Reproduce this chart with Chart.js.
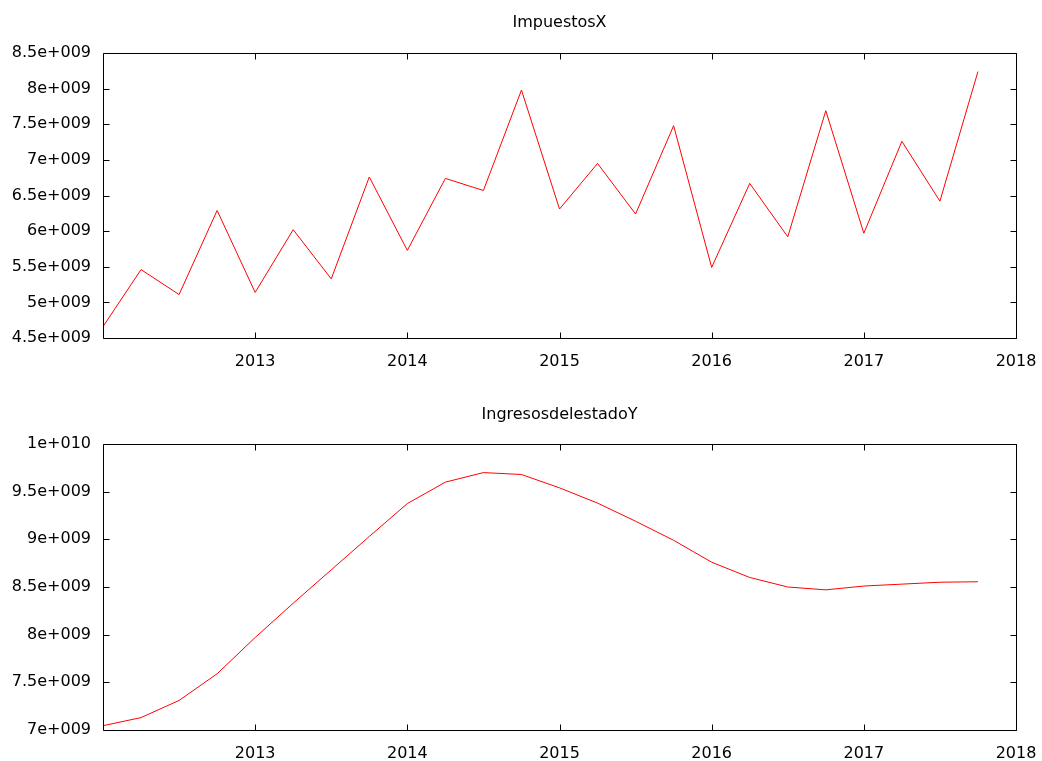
<!DOCTYPE html>
<html><head><meta charset="utf-8">
<script src="https://cdn.jsdelivr.net/npm/chart.js@4"></script>
<style>
html,body{margin:0;padding:0;background:#fff;}
#c1{position:absolute;left:0;top:0;}
#c2{position:absolute;left:0;top:390px;}
</style></head><body>
<canvas id="c1" width="1042" height="369"></canvas>
<canvas id="c2" width="1042" height="371"></canvas>
<script>
const quarters = [2012, 2012.25, 2012.5, 2012.75, 2013, 2013.25, 2013.5, 2013.75,
  2014, 2014.25, 2014.5, 2014.75, 2015, 2015.25, 2015.5, 2015.75,
  2016, 2016.25, 2016.5, 2016.75, 2017, 2017.25, 2017.5, 2017.75];
const impuestosX = [4.66e9, 5.46e9, 5.11e9, 6.29e9, 5.14e9, 6.02e9, 5.33e9, 6.76e9,
  5.73e9, 6.74e9, 6.57e9, 7.98e9, 6.31e9, 6.95e9, 6.24e9, 7.48e9,
  5.49e9, 6.67e9, 5.92e9, 7.69e9, 5.97e9, 7.26e9, 6.42e9, 8.24e9];
const ingresosY = [7.045e9, 7.13e9, 7.31e9, 7.59e9, 7.97e9, 8.33e9, 8.68e9, 9.03e9,
  9.375e9, 9.60e9, 9.70e9, 9.68e9, 9.54e9, 9.38e9, 9.19e9, 8.99e9,
  8.76e9, 8.60e9, 8.50e9, 8.47e9, 8.51e9, 8.53e9, 8.55e9, 8.555e9];
const xTicks = [2013, 2014, 2015, 2016, 2017, 2018];
const xTickLabels = ['2013', '2014', '2015', '2016', '2017', '2018'];
const yTicksTop = [4.5e9, 5e9, 5.5e9, 6e9, 6.5e9, 7e9, 7.5e9, 8e9, 8.5e9];
const yTickLabelsTop = ['4.5e+009', '5e+009', '5.5e+009', '6e+009', '6.5e+009', '7e+009', '7.5e+009', '8e+009', '8.5e+009'];
const yTicksBottom = [7e9, 7.5e9, 8e9, 8.5e9, 9e9, 9.5e9, 1e10];
const yTickLabelsBottom = ['7e+009', '7.5e+009', '8e+009', '8.5e+009', '9e+009', '9.5e+009', '1e+010'];
const titles = ['ImpuestosX', 'IngresosdelestadoY'];

const FONT = 'DejaVu Sans';

const framePlugin = {
  id: 'frame',
  afterDraw(chart) {
    const ctx = chart.ctx, a = chart.chartArea;
    const xs = chart.scales.x, ys = chart.scales.y;
    const L = Math.round(a.left) + 0.5, R = Math.round(a.right) + 0.5;
    const T = Math.round(a.top) + 0.5, B = Math.round(a.bottom) + 0.5;
    const tl = 6;
    ctx.save();
    ctx.strokeStyle = '#000';
    ctx.lineWidth = 1;
    ctx.beginPath();
    ctx.rect(L, T, R - L, B - T);
    xs.ticks.forEach(t => {
      const px = Math.round(xs.getPixelForValue(t.value)) + 0.5;
      ctx.moveTo(px, B); ctx.lineTo(px, B - tl);
      ctx.moveTo(px, T); ctx.lineTo(px, T + tl);
    });
    ys.ticks.forEach(t => {
      const py = Math.round(ys.getPixelForValue(t.value)) + 0.5;
      ctx.moveTo(L, py); ctx.lineTo(L + tl, py);
      ctx.moveTo(R, py); ctx.lineTo(R - tl, py);
    });
    ctx.stroke();
    ctx.restore();
  }
};

function makeChart(id, title, values, yTicks, yLabels, titlePad) {
  return new Chart(document.getElementById(id), {
    type: 'line',
    data: {
      datasets: [{
        data: quarters.map((q, i) => ({ x: q, y: values[i] })),
        borderColor: '#ff0000',
        borderWidth: 1,
        pointRadius: 0,
        tension: 0,
        fill: false
      }]
    },
    options: {
      responsive: false,
      animation: false,
      layout: { padding: { left: 0, right: 26, top: 0, bottom: 0 } },
      plugins: {
        legend: { display: false },
        tooltip: { enabled: false },
        title: {
          display: true,
          text: title,
          fullSize: false,
          color: '#000',
          font: { family: FONT, size: 16, weight: 'normal' },
          padding: titlePad
        }
      },
      scales: {
        x: {
          type: 'linear',
          min: 2012, max: 2018,
          grid: { display: false, drawTicks: false },
          border: { display: false },
          afterBuildTicks: s => { s.ticks = xTicks.map(v => ({ value: v })); },
          afterFit: s => { s.height = 31; s.paddingLeft = 0; s.paddingRight = 0; },
          ticks: {
            color: '#000',
            padding: 14,
            maxRotation: 0,
            autoSkip: false,
            font: { family: FONT, size: 16 },
            callback: v => xTickLabels[xTicks.indexOf(v)]
          }
        },
        y: {
          type: 'linear',
          min: yTicks[0], max: yTicks[yTicks.length - 1],
          grid: { display: false, drawTicks: false },
          border: { display: false },
          afterBuildTicks: s => { s.ticks = yTicks.map(v => ({ value: v })); },
          afterFit: s => { s.width = 103; },
          ticks: {
            color: '#000',
            padding: 12,
            autoSkip: false,
            font: { family: FONT, size: 16 },
            callback: v => yLabels[yTicks.indexOf(v)]
          }
        }
      }
    },
    plugins: [framePlugin]
  });
}

makeChart('c1', titles[0], impuestosX, yTicksTop, yTickLabelsTop, { top: 13, bottom: 20.8 });
makeChart('c2', titles[1], ingresosY, yTicksBottom, yTickLabelsBottom, { top: 15, bottom: 19.8 });
</script>
</body></html>
